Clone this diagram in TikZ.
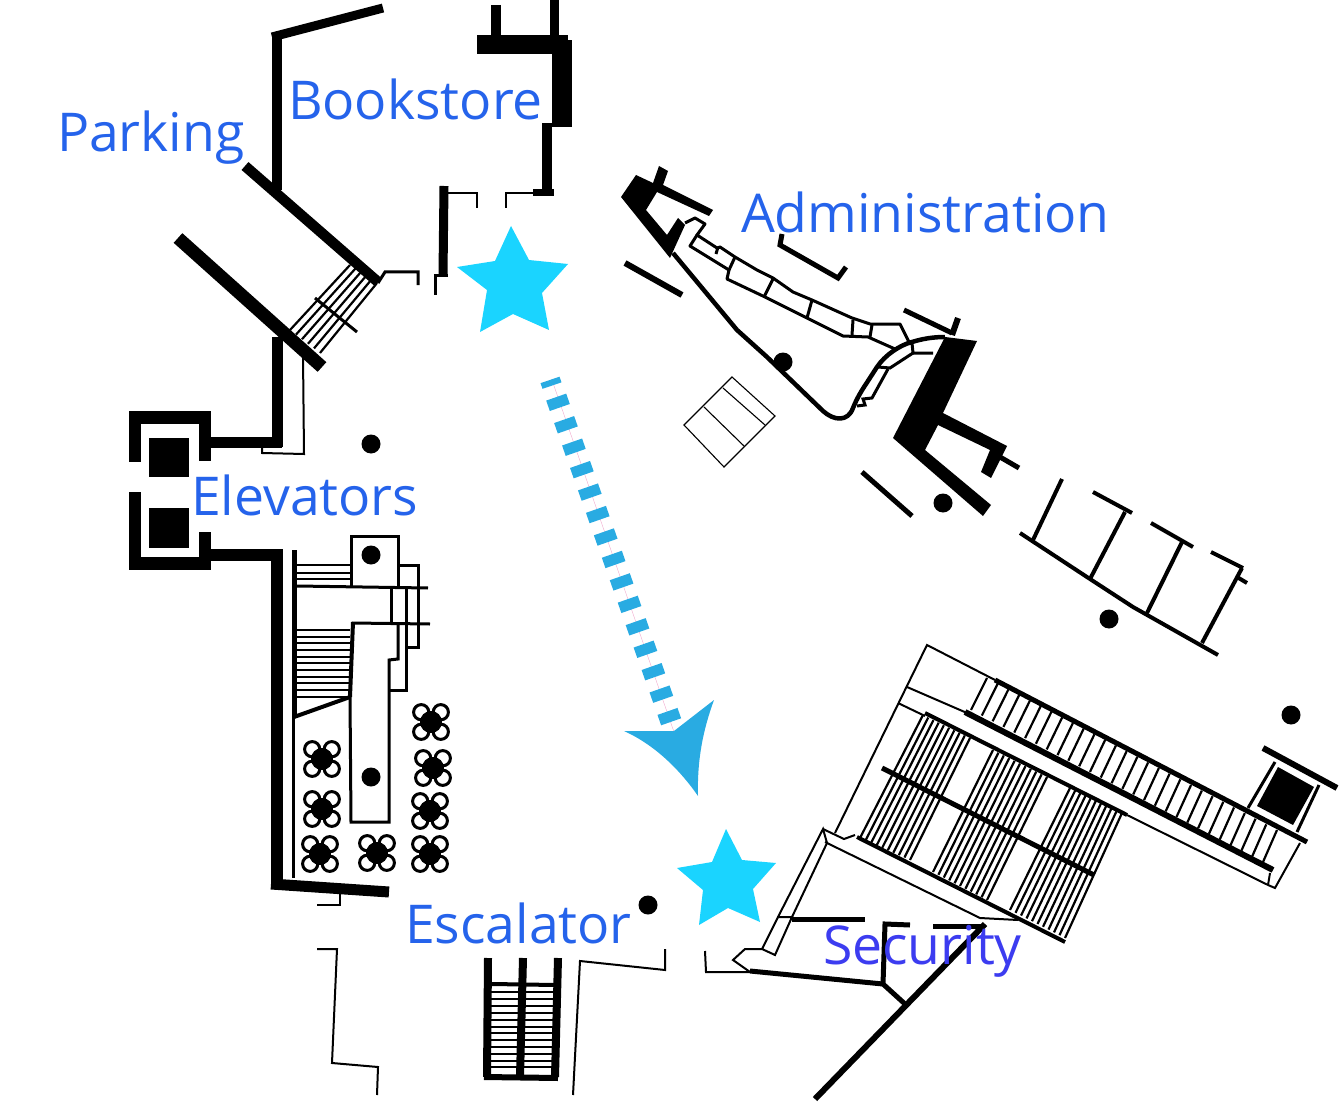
\documentclass[tikz,border=0pt]{standalone}
\usepackage{fontspec}
\setmainfont{Open Sans}
\usetikzlibrary{calc}
\definecolor{labelblue}{HTML}{2563EB}
\definecolor{secblue}{HTML}{3C3CF0}
\definecolor{starcyan}{HTML}{1AD4FF}
\definecolor{arrowblue}{HTML}{29ABE2}
\definecolor{hairpink}{HTML}{F0A8CC}
\tikzset{
  hair/.style={line width=1.1pt,line join=miter},
  thinw/.style={line width=2pt,line join=miter},
  midw/.style={line width=3pt,line join=miter},
  wall/.style={line width=5pt,line join=miter},
  thick wall/.style={line width=10pt,line join=miter},
  heavy wall/.style={line width=13pt},
  tread/.style={line width=2.2pt},
  starfill/.style={fill=starcyan},
  place/.style={text=labelblue,font=\fontsize{53.5}{60}\selectfont,anchor=base west,inner sep=0pt,outer sep=0pt}
}
\begin{document}
\begin{tikzpicture}[x=1pt,y=-1pt]
\useasboundingbox (0,0) rectangle (1339,1102);
%% ---- top-left: bookstore walls
\draw[line width=10pt] (277,190) -- (277,37);
\draw[line width=9pt] (272,37) -- (383,8);
\draw[line width=10.5pt] (245,166) -- (378,282);
\draw[heavy wall] (178,238) -- (322,367);
\draw[line width=11pt] (277,337) -- (277,447);
\foreach \t in {0,...,5}
  \draw[tread] ($(350,265)!\t/5!(377,283)$) -- ($(290,330)!\t/5!(320,353)$);
\draw[midw] (315,298) -- (357,332);
\draw[midw] (378,283) -- (385,272) -- (418,272) -- (418,285);
\draw[line width=9pt] (444,186) -- (443,275);
\draw[thinw] (448,193) -- (477,193) -- (477,208);
\draw[thinw] (506,208) -- (506,193) -- (535,193);
\draw[line width=7pt] (533,193) -- (554,193);
\draw[thick wall] (547,123) -- (547,190);
\fill (552,40) rectangle (572,127);
\fill (477,35) rectangle (568,54);
\draw[thick wall] (496,5) -- (496,35);
\draw[line width=9pt] (554,0) -- (554,35);
\draw[midw] (448,275) -- (435,275) -- (435,295);
%% ---- administration
\fill (621,197) -- (636,175) -- (653,183) -- (659,166) -- (668,171) -- (663,185) -- (713,210) -- (709,216) -- (657,192) -- (646,210) -- (667,235) -- (678,218) -- (685,225) -- (670,258) -- cycle;
\draw[line width=4.5pt,line join=round] (673,253) -- (737,330) -- (767,357) -- (823,411) .. controls (834,421) and (848,422) .. (853,408) .. controls (857,398) and (862,390) .. (866,384) -- (877,367) .. controls (885,355) and (900,345) .. (912,342) .. controls (922,339) and (932,337) .. (945,337);
\draw[midw,line join=round] (685,223) -- (695,218) -- (705,224) -- (697,235) -- (717,248) -- (720,247) -- (735,257) -- (757,270) -- (773,278) -- (793,292) -- (812,300) -- (852,318) -- (870,324) -- (900,324) -- (909,342);
\draw[midw,line join=round] (697,235) -- (690,246) -- (729,270) -- (727,279) -- (765,297) -- (807,318) -- (843,336) -- (868,337) -- (895,349);
\draw[midw] (718,247) -- (716,254);
\draw[midw] (735,257) -- (729,270);
\draw[midw] (773,279) -- (764,297);
\draw[midw] (812,300) -- (807,318);
\draw[midw] (853,320) -- (852,335);
\draw[midw] (872,325) -- (870,337);
\draw[midw] (912,343) -- (913,353) -- (933,353);
\draw[midw] (913,353) -- (890,368) -- (878,367);
\draw[midw] (888,369) -- (872,398) -- (863,399) -- (865,405) -- (857,406);
\fill (945,337) -- (977,341) -- (943,413) -- (1007,446) -- (991,478) -- (981,472) -- (990,450) -- (938,425) -- (925,450) -- (991,505) -- (983,516) -- (893,438) -- cycle;
\draw[wall] (1000,457) -- (1019,468);
\draw[wall] (904,310) -- (952,333);
\draw[line width=6pt] (958,318) -- (952,335);
\draw[line width=6pt] (625,263) -- (682,295);
\draw[wall] (862,472) -- (912,516);
\draw[wall] (782,234) -- (780,245) -- (838,278) -- (846,267);
\draw[hair] (732,377) -- (775,416) -- (724,467) -- (684,425) -- cycle;
\draw[hair] (723,388) -- (765,425);
\draw[hair] (704,407) -- (744,446);
%% ---- right-hand rooms
\draw[line width=4pt] (1020,533) -- (1090,579) -- (1133,607) -- (1218,655);
\draw[line width=4pt] (1062,479) -- (1033,540);
\draw[line width=4pt] (1093,492) -- (1132,513);
\draw[line width=4pt] (1125,512) -- (1090,579);
\draw[line width=4pt] (1151,523) -- (1193,547);
\draw[line width=4pt] (1182,542) -- (1147,613);
\draw[line width=4pt] (1211,552) -- (1243,568);
\draw[line width=4pt] (1242,568) -- (1202,643);
\draw[line width=4pt] (1237,577) -- (1247,583);
%% ---- elevators
\fill (129,411) rectangle (211,424);
\fill (129,411) rectangle (141,462);
\fill (199,411) rectangle (211,461);
\fill (129,492) rectangle (141,570);
\fill (129,557) rectangle (211,570);
\fill (199,532) rectangle (211,570);
\fill (149,438) rectangle (189,477);
\fill (149,508) rectangle (189,548);
\draw[line width=11pt] (211,442) -- (282,442);
\draw[line width=12pt] (211,555) -- (277,555) -- (277,883);
\draw[line width=11pt] (271,884) -- (389,892);
\draw[thinw] (303,355) -- (304,454) -- (262,453) -- (262,447);
%% ---- stairs left
\draw[wall] (294,550) -- (294,717);
\draw[midw] (293,717) -- (293,878);
\draw[line width=4pt] (294,717) -- (350,697);
\foreach \yy in {565,573,579}
  \draw[tread] (294,\yy) -- (350,\yy);
\draw[midw] (297,586) -- (428,588);
\foreach \yy in {630,637,643,650,657,663,670,677,683,690,697}
  \draw[tread] (294,\yy) -- (350,\yy);
\draw[midw] (351,586) -- (351,536) -- (398,536) -- (398,586);
\draw[midw] (352,623) -- (430,624);
\draw[line width=4pt] (353,622) -- (350,697);
\draw[midw] (350,697) -- (351,822) -- (389,822) -- (389,660) -- (398,659) -- (398,622);
\draw[midw] (389,690) -- (406,690) -- (406,588);
\draw[midw] (391,586) -- (391,622);
\draw[midw] (398,565) -- (418,565) -- (418,647) -- (406,647);
%% ---- tables
\foreach \cx/\cy in {431/722,433/768,430/811,430/854,322/759,322/809,320/854,377/853}{
  \fill (\cx,\cy) circle (11pt);
  \foreach \ox/\oy in {-9.8/-9.8,9.8/-9.8,-9.8/9.8,9.8/9.8}
    \draw[line width=3pt] (\cx+\ox,\cy+\oy) circle (7.6pt);
}
%% ---- columns
\foreach \cx/\cy in {371/444,371/555,371/777,648/905,783/362,943/503,1109/619,1291/715}
  \fill (\cx,\cy) circle (9.5pt);
%% ---- lower walls
\draw[thinw] (317,905) -- (340,905) -- (340,893);
\draw[thinw] (317,949) -- (337,949) -- (332,1063) -- (378,1067) -- (377,1095);
\draw[line width=8pt] (488,958) -- (487,1077);
\draw[line width=8pt] (523,958) -- (520,1077);
\draw[line width=8pt] (558,958) -- (555,1077);
\draw[line width=6pt] (484,1077) -- (558,1078);
\draw[line width=4pt] (492,984) -- (555,985);
\foreach \yy in {992,999,1006,1013,1020,1027,1033,1040,1047,1054,1061,1067}
  \draw[line width=2pt] (490,\yy) -- (553,\yy);
\draw[thinw] (573,1095) -- (580,961) -- (665,970) -- (665,949);
\draw[thinw] (705,951) -- (706,972) -- (750,972);
%% ---- security
\draw[wall] (750,971) -- (883,984);
\draw[thinw] (750,972) -- (733,960) -- (745,949) -- (762,949) -- (775,955) -- (792,917) -- (778,917) -- (762,949);
\draw[thinw] (778,917) -- (823,829) -- (827,843) -- (792,917);
\draw[thinw] (823,829) -- (844,839) -- (855,835);
\draw[thinw] (825,842) -- (980,918) -- (1018,920);
\draw[wall] (792,919) -- (865,919);
\draw[wall] (910,925) -- (885,924) -- (883,984) -- (905,1004);
\draw[wall] (933,926) -- (983,926);
\draw[line width=6pt] (985,924) -- (815,1099);
%% ---- long stair block
\draw[thinw] (835,833) -- (927,645) -- (995,680);
\draw[thinw] (907,687) -- (967,713);
\draw[thinw] (898,703) -- (925,716);
\draw[thinw] (1127,815) -- (1268,885) -- (1275,888) -- (1300,843);
\draw[thinw] (1270,873) -- (1268,885);
\draw[line width=5pt] (995,680) -- (1307,842);
\draw[line width=6pt] (965,712) -- (1273,870);
\foreach \t in {0,...,27}
  \draw[tread] ($(971,710)!\t/27!(1263,862)$) -- ($(987,678)!\t/27!(1277,830)$);
\draw[line width=4pt] (857,837) -- (1065,942);
\draw[line width=4pt] (925,713) -- (1127,815);
\draw[line width=5pt] (882,768) -- (1094,875);
\foreach \t in {0,...,9}
  \draw[tread] ($(923,715)!\t/9!(970,738)$) -- ($(860,838)!\t/9!(910,860)$);
\foreach \t in {0,...,10}
  \draw[tread] ($(993,750)!\t/10!(1047,777)$) -- ($(933,872)!\t/10!(987,900)$);
\foreach \t in {0,...,10}
  \draw[tread] ($(1070,788)!\t/10!(1122,813)$) -- ($(1010,910)!\t/10!(1065,938)$);
%% ---- elevator room lower right
\draw[line width=6pt] (1263,748) -- (1337,788);
\draw[midw] (1275,762) -- (1248,808);
\draw[midw] (1319,785) -- (1297,832);
\fill (1278,767) -- (1314,787) -- (1293,825) -- (1257,806) -- cycle;
%% ---- stars
\fill[starfill] (511,226) -- (529,260) -- (568,264) -- (542,293) -- (549,330) -- (513,314) -- (480,332) -- (487,290) -- (457,267) -- (495,261) -- cycle;
\fill[starfill] (726,829) -- (742,860) -- (776,863) -- (753,889) -- (760,922) -- (728,908) -- (699,925) -- (703,890) -- (677,868) -- (712,862) -- cycle;
%% ---- route arrow
\draw[hairpink,line width=0.4pt] (553,383) -- (674,732);
\draw[arrowblue,line width=6pt] (541.5,386) -- (560.5,379.5);
\foreach \i in {0,...,14}
  \draw[arrowblue,line width=11pt] (558+7.95*\i-10,402.3+22.45*\i+3.5) -- (558+7.95*\i+10,402.3+22.45*\i-3.5);
\fill[arrowblue] (624,731) -- (674,731) -- (714,700) .. controls (703,730) and (697,760) .. (698,796) .. controls (680,770) and (655,745) .. (624,731) -- cycle;
%% ---- labels
\node[place] (parking) at (57,152) {Parking};
\node[place] (bookstore) at (288,120) {Bookstore};
\node[place] (administration) at (741,233) {Administration};
\node[place] (elevators) at (191,515) {Elevators};
\node[place] (escalator) at (405,943) {Escalator};
\node[place,text=secblue] (security) at (823,964) {Security};
\end{tikzpicture}
\end{document}
